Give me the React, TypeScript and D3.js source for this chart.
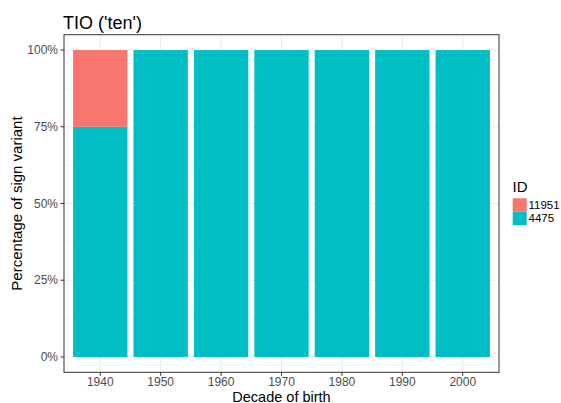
import React from "react";
import * as d3 from "d3";

const decades = ["1940", "1950", "1960", "1970", "1980", "1990", "2000"];
const ids = ["11951", "4475"];
const share4475 = [0.75, 1, 1, 1, 1, 1, 1];
const share11951 = [0.25, 0, 0, 0, 0, 0, 0];
const colors = ["#F8766D", "#00BFC4"];
const yTicks = [0, 0.25, 0.5, 0.75, 1];

export default function App() {
  const W = 561, H = 403;
  const left = 64, right = 499, top = 34.7, bottom = 372.3;
  const n = decades.length;
  const x = d3.scaleLinear().domain([0.4, n + 0.6]).range([left, right]);
  const y = d3.scaleLinear().domain([-0.05, 1.05]).range([bottom, top]);
  const rows = decades.map((d, i) => ({ decade: d, "4475": share4475[i], "11951": share11951[i] }));
  // ggplot stacks first factor level on top: 4475 bottom, 11951 top
  const stack = d3.stack<any>().keys(["4475", "11951"])(rows);
  const colorOf = (k: string) => colors[ids.indexOf(k)];
  const bw = 0.9;
  const minorY = [0.125, 0.375, 0.625, 0.875];
  const font = "Liberation Sans, Arial, Helvetica, sans-serif";
  return (
    <svg width={W} height={H} style={{ position: "absolute", left: 0, top: 0 }} fontFamily={font}>
      <rect x={0} y={0} width={W} height={H} fill="#fff" />
      <g>
        {minorY.map((t) => (
          <line key={"m" + t} x1={left} x2={right} y1={y(t)} y2={y(t)} stroke="#f2f2f2" strokeWidth={0.6} />
        ))}
        {yTicks.map((t) => (
          <line key={"g" + t} x1={left} x2={right} y1={y(t)} y2={y(t)} stroke="#ebebeb" strokeWidth={1.1} />
        ))}
        {decades.map((d, i) => (
          <line key={"v" + d} x1={x(i + 1)} x2={x(i + 1)} y1={top} y2={bottom} stroke="#ebebeb" strokeWidth={1.1} />
        ))}
      </g>
      <g>
        {stack.map((s) =>
          s.map((seg, i) => {
            const h = y(seg[0]) - y(seg[1]);
            if (h <= 0) return null;
            return (
              <rect
                key={s.key + i}
                x={x(i + 1 - bw / 2)}
                width={x(i + 1 + bw / 2) - x(i + 1 - bw / 2)}
                y={y(seg[1])}
                height={h}
                fill={colorOf(s.key)}
              />
            );
          })
        )}
      </g>
      <rect x={left} y={top} width={right - left} height={bottom - top} fill="none" stroke="#333" strokeWidth={1} />
      {yTicks.map((t) => (
        <g key={"yt" + t}>
          <line x1={left - 3.5} x2={left} y1={y(t)} y2={y(t)} stroke="#333" strokeWidth={1} />
          <text x={left - 6} y={y(t)} dy="0.35em" textAnchor="end" fontSize={12} fill="#4d4d4d">
            {d3.format(".0%")(t)}
          </text>
        </g>
      ))}
      {decades.map((d, i) => (
        <g key={"xt" + d}>
          <line x1={x(i + 1)} x2={x(i + 1)} y1={bottom} y2={bottom + 3.5} stroke="#333" strokeWidth={1} />
          <text x={x(i + 1)} y={385.5} textAnchor="middle" fontSize={12} fill="#4d4d4d">
            {d}
          </text>
        </g>
      ))}
      <text x={(left + right) / 2} y={401.5} textAnchor="middle" fontSize={14.5} fill="#000">
        Decade of birth
      </text>
      <text
        transform={`translate(22,${(top + bottom) / 2}) rotate(-90)`}
        textAnchor="middle"
        fontSize={15}
        fill="#000"
      >
        Percentage of sign variant
      </text>
      <text x={63} y={28.5} fontSize={18} fill="#000">
        TIO ('ten')
      </text>
      <g>
        <text x={512.5} y={192} fontSize={15} fill="#000">ID</text>
        {ids.map((id, i) => (
          <g key={id}>
            <rect x={512.7} y={198.3 + i * 13.4} width={14} height={13.4} fill={colors[i]} />
            <text x={528.5} y={198.3 + i * 13.4 + 6.7} dy="0.35em" fontSize={11.5} fill="#000">
              {id}
            </text>
          </g>
        ))}
      </g>
    </svg>
  );
}
